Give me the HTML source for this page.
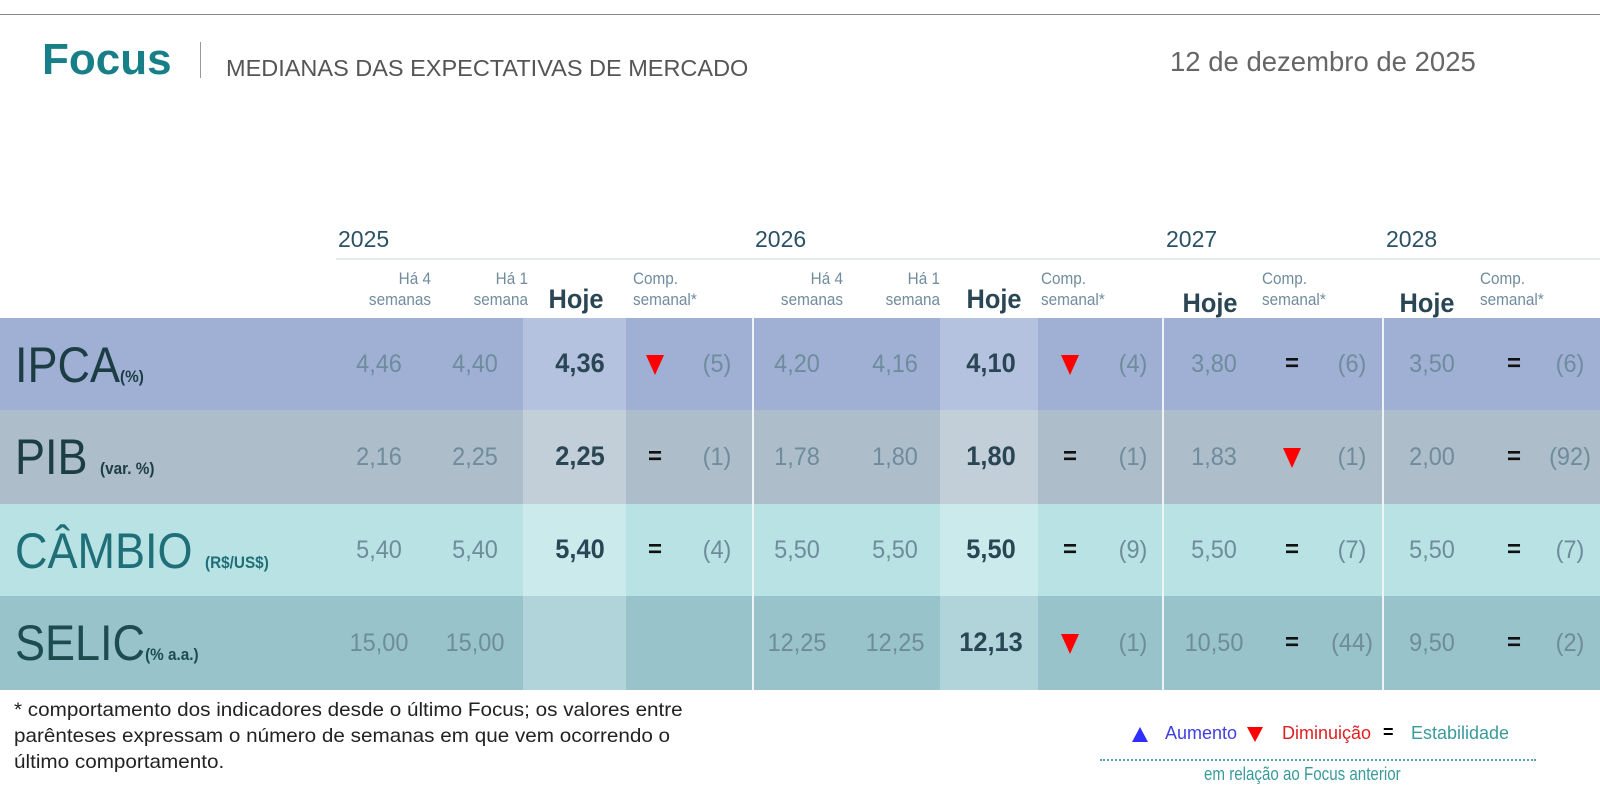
<!DOCTYPE html>
<html><head><meta charset="utf-8"><style>
body{margin:0;width:1600px;height:800px;background:#fff;position:relative;overflow:hidden;font-family:"Liberation Sans",sans-serif}
.a{position:absolute;white-space:nowrap}
.n{font-size:25px;color:#6f8c9c;transform:translateX(-50%) scaleX(0.94)}
.h{font-size:27px;color:#2a4654;font-weight:bold;transform:translateX(-50%) scaleX(0.94)}
.sh{font-size:17px;color:#6f8c9c;text-align:right;line-height:21px;transform-origin:right top;transform:scaleX(0.9)}
.shl{font-size:17px;color:#6f8c9c;line-height:21px;transform-origin:left top;transform:scaleX(0.9)}
.eq{font-size:24px;font-weight:bold;color:#111;transform:translateX(-50%)}
.dn{width:0;height:0;border-left:9px solid transparent;border-right:9px solid transparent;border-top:20px solid #f00}
.lab{font-size:50px;color:#1c3d44;transform-origin:left top;transform:scaleX(0.9)}
.lab small{font-size:17px;font-weight:bold}
</style></head><body>
<div class="a" style="left:0;top:14px;width:1600px;height:1px;background:#888"></div>
<div class="a" style="left:42px;top:35px;font-size:44px;font-weight:bold;color:#177f87">Focus</div>
<div class="a" style="left:200px;top:42px;width:1px;height:36px;background:#999"></div>
<div class="a" style="left:226px;top:55px;font-size:23.5px;color:#555">MEDIANAS DAS EXPECTATIVAS DE MERCADO</div>
<div class="a" style="left:1170px;top:46px;font-size:27.5px;color:#666">12 de dezembro de 2025</div>

<div class="a" style="left:336px;top:258px;width:1264px;height:2px;background:#e6e9ec"></div>
<div class="a" style="left:338px;top:226px;font-size:23px;color:#2a5264">2025</div>
<div class="a" style="left:755px;top:226px;font-size:23px;color:#2a5264">2026</div>
<div class="a" style="left:1166px;top:226px;font-size:23px;color:#2a5264">2027</div>
<div class="a" style="left:1386px;top:226px;font-size:23px;color:#2a5264">2028</div>
<div id="g"></div>

<div class="a" style="left:14px;top:697px;font-size:19.5px;line-height:26px;color:#222;transform-origin:left top;transform:scaleX(1.06)">* comportamento dos indicadores desde o último Focus; os valores entre<br>parênteses expressam o número de semanas em que vem ocorrendo o<br>último comportamento.</div>
<div class="a" style="left:1132px;top:727px;width:0;height:0;border-left:8px solid transparent;border-right:8px solid transparent;border-bottom:15px solid #2f2fff"></div>
<div class="a" style="left:1165px;top:723px;font-size:18px;color:#4040e0">Aumento</div>
<div class="a" style="left:1247px;top:727px;width:0;height:0;border-left:8px solid transparent;border-right:8px solid transparent;border-top:15px solid #f00"></div>
<div class="a" style="left:1282px;top:723px;font-size:18px;color:#e02020">Diminuição</div>
<div class="a" style="left:1383px;top:722px;font-size:18px;font-weight:bold;color:#000">=</div>
<div class="a" style="left:1411px;top:723px;font-size:18px;color:#3a9a9a">Estabilidade</div>
<div class="a" style="left:1100px;top:759px;width:436px;border-top:2px dotted #5aa6a6"></div>
<div class="a" style="left:1204px;top:764px;font-size:18px;color:#3a9a9a;transform-origin:left top;transform:scaleX(0.84)">em relação ao Focus anterior</div>
<script>
var rows=[
{y:318,h:92,bg:"#9fb0d4",band:"#b4c2e0",lab:'IPCA<small>(%)</small>',lc:"#1c3d44",
 v:[["4,46","4,40","4,36","d","(5)"],["4,20","4,16","4,10","d","(4)"],["3,80","e","(6)"],["3,50","e","(6)"]]},
{y:410,h:94,bg:"#adbdc9",band:"#c2ced8",lab:'PIB <small>(var. %)</small>',lc:"#1c3d44",
 v:[["2,16","2,25","2,25","e","(1)"],["1,78","1,80","1,80","e","(1)"],["1,83","d","(1)"],["2,00","e","(92)"]]},
{y:504,h:92,bg:"#b9e2e4",band:"#cbeaec",lab:'CÂMBIO <small>(R$/US$)</small>',lc:"#1f6f78",
 v:[["5,40","5,40","5,40","e","(4)"],["5,50","5,50","5,50","e","(9)"],["5,50","e","(7)"],["5,50","e","(7)"]]},
{y:596,h:94,bg:"#99c3cb",band:"#b0d4d9",lab:'SELIC<small>(% a.a.)</small>',lc:"#1c4c50",
 v:[["15,00","15,00","","",""],["12,25","12,25","12,13","d","(1)"],["10,50","e","(44)"],["9,50","e","(2)"]]}];
var H='';
function t(x,y,c,s){return '<div class="a '+c+'" style="left:'+x+'px;top:'+y+'px">'+s+'</div>';}
function sym(x,y,s){if(s=="d")return '<div class="a dn" style="left:'+(x-9)+'px;top:'+(y+5)+'px"></div>';if(s=="e")return t(x,y,"eq","=");return '';}
function hdr(x,w,l1,l2){return '<div class="a sh" style="left:'+(x-w)+'px;width:'+w+'px;top:268px">'+l1+'<br>'+l2+'</div>';}
H+=hdr(431,90,"Há 4","semanas")+hdr(528,90,"Há 1","semana")+hdr(843,90,"Há 4","semanas")+hdr(940,90,"Há 1","semana");
H+=t(576,284,"h","Hoje")+t(994,284,"h","Hoje")+t(1210,288,"h","Hoje")+t(1427,288,"h","Hoje");
[633,1041,1262,1480].forEach(function(x){H+='<div class="a shl" style="left:'+x+'px;top:268px">Comp.<br>semanal*</div>';});
rows.forEach(function(r){
 H+='<div class="a" style="left:0;top:'+r.y+'px;width:1600px;height:'+r.h+'px;background:'+r.bg+'"></div>';
 H+='<div class="a" style="left:523px;top:'+r.y+'px;width:103px;height:'+r.h+'px;background:'+r.band+'"></div>';
 H+='<div class="a" style="left:940px;top:'+r.y+'px;width:98px;height:'+r.h+'px;background:'+r.band+'"></div>';
 H+='<div class="a lab" style="left:15px;top:'+(r.y+18)+'px;color:'+r.lc+'">'+r.lab+'</div>';
 var y=r.y+r.h/2-14,a=r.v;
 H+=t(379,y,"n",a[0][0])+t(475,y,"n",a[0][1])+t(580,y-2,"h",a[0][2])+sym(655,y,a[0][3])+t(717,y,"n",a[0][4]);
 H+=t(797,y,"n",a[1][0])+t(895,y,"n",a[1][1])+t(991,y-2,"h",a[1][2])+sym(1070,y,a[1][3])+t(1133,y,"n",a[1][4]);
 H+=t(1214,y,"n",a[2][0])+sym(1292,y,a[2][1])+t(1352,y,"n",a[2][2]);
 H+=t(1432,y,"n",a[3][0])+sym(1514,y,a[3][1])+t(1570,y,"n",a[3][2]);
});
[752,1162,1382].forEach(function(x){H+='<div class="a" style="left:'+x+'px;top:318px;width:2px;height:372px;background:#eef3f5"></div>';});
document.getElementById('g').innerHTML=H;
</script>
</body></html>
